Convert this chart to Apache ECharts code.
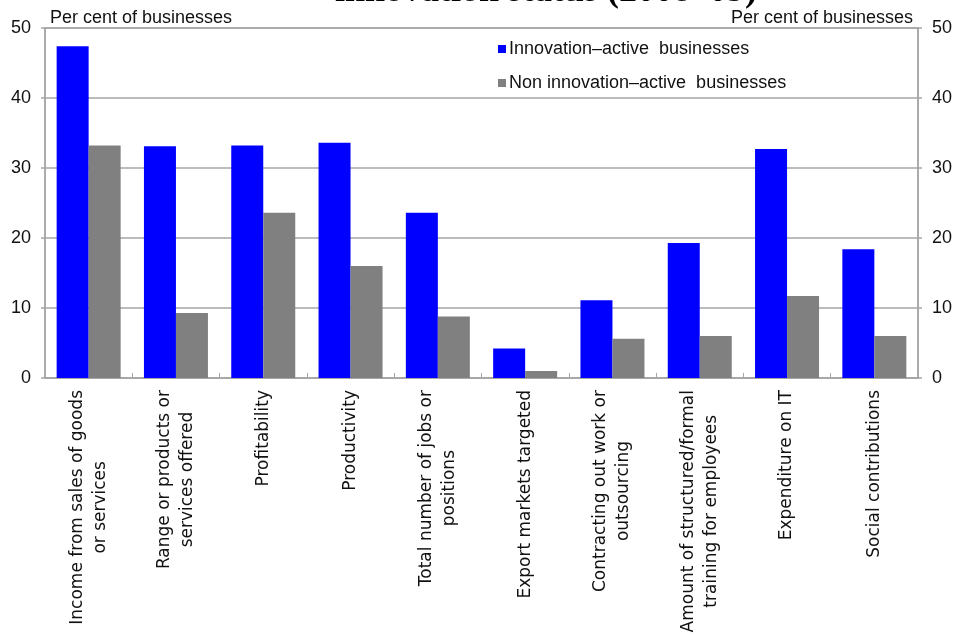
<!DOCTYPE html>
<html>
<head>
<meta charset="utf-8">
<script src="https://cdn.jsdelivr.net/npm/echarts@6/dist/echarts.min.js"></script>
<style>html,body{margin:0;padding:0;background:#fff}#c{width:960px;height:637px}</style>
</head>
<body>
<div id="c"></div>
<script>
const categories = [
  'Income from sales of goods\nor services',
  'Range or products or\nservices offered',
  'Profitability',
  'Productivity',
  'Total number of jobs or\npositions',
  'Export markets targeted',
  'Contracting out work or\noutsourcing',
  'Amount of structured/formal\ntraining for employees',
  'Expenditure on IT',
  'Social contributions'
];
const innovationActive = [47.4, 33.1, 33.2, 33.6, 23.6, 4.2, 11.1, 19.3, 32.7, 18.4];
const nonInnovationActive = [33.2, 9.3, 23.6, 16.0, 8.8, 1.0, 5.6, 6.0, 11.7, 6.0];
const seriesNames = ['Innovation\u2013active  businesses', 'Non innovation\u2013active  businesses'];
const yTicks = [0, 10, 20, 30, 40, 50];
const titleText = 'innovation status (2008\u201309)';
const axisUnit = 'Per cent of businesses';

const chart = echarts.init(document.getElementById('c'));
const yAxisCommon = {
  type: 'value', min: yTicks[0], max: yTicks[yTicks.length - 1], interval: 10,
  axisLine: {show: true, lineStyle: {color: '#a6a6a6', width: 1.5}},
  axisTick: {show: true, inside: false, length: 4, lineStyle: {color: '#a6a6a6', width: 1.5}},
  axisLabel: {color: '#111', fontSize: 18, fontFamily: 'Liberation Sans, Arial', margin: 14},
  splitLine: {show: false}
};
chart.setOption({
  backgroundColor: '#ffffff',
  animation: false,
  grid: {left: 45, right: 42, top: 28, bottom: 259, show: true, borderColor: '#a6a6a6', borderWidth: 1.5},
  legend: {
    orient: 'vertical', left: 493, top: 35, itemGap: 16,
    icon: 'rect', itemWidth: 8, itemHeight: 8,
    textStyle: {color: '#111', fontSize: 18, fontFamily: 'Liberation Sans, Arial', padding: [0, 0, 0, -2]},
    data: seriesNames
  },
  graphic: [
    {type: 'text', x: 546, y: 10, style: {text: titleText, font: 'bold 36px "Liberation Serif", "Times New Roman", serif', fill: '#000', textAlign: 'center', textVerticalAlign: 'bottom'}},
    {type: 'text', x: 50, y: 18, style: {text: axisUnit, font: '18px "Liberation Sans", Arial', fill: '#111', textVerticalAlign: 'middle'}},
    {type: 'text', x: 913, y: 18, style: {text: axisUnit, font: '18px "Liberation Sans", Arial', fill: '#111', textAlign: 'right', textVerticalAlign: 'middle'}}
  ],
  xAxis: {
    type: 'category', data: categories,
    axisLine: {lineStyle: {color: '#a6a6a6', width: 1.5}},
    axisTick: {show: true, inside: true, length: 5, alignWithLabel: false, lineStyle: {color: '#a6a6a6'}},
    axisLabel: {
      rotate: 90, interval: 0, margin: 12, color: '#111',
      fontSize: 17, fontFamily: 'DejaVu Sans', lineHeight: 23,
      formatter: function (v) { return v.split('\n').map(function (s) { return '{c|' + s + '}'; }).join('\n'); },
      rich: {c: {align: 'center', fontSize: 17, lineHeight: 23, fontFamily: 'DejaVu Sans', color: '#111'}}
    }
  },
  yAxis: [
    Object.assign({}, yAxisCommon, {position: 'left', splitLine: {show: true, lineStyle: {color: '#a6a6a6', width: 1.5}}}),
    Object.assign({}, yAxisCommon, {position: 'right'})
  ],
  series: [
    {name: seriesNames[0], type: 'bar', data: innovationActive, barWidth: 32, barGap: '0%', itemStyle: {color: '#0000ff'}},
    {name: seriesNames[1], type: 'bar', data: nonInnovationActive, barWidth: 32, barGap: '0%', itemStyle: {color: '#808080'}}
  ]
});
</script>
</body>
</html>
